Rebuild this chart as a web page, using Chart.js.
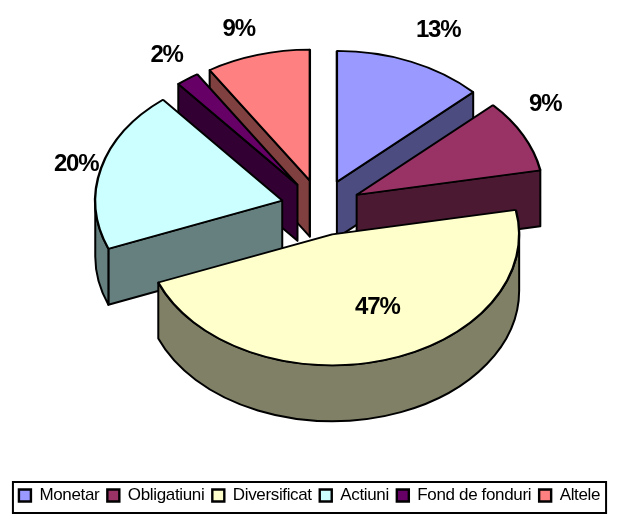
<!DOCTYPE html>
<html>
<head>
<meta charset="utf-8">
<style>
  html, body { margin: 0; padding: 0; background: #fff; }
</style>
<script src="https://cdn.jsdelivr.net/npm/chart.js@4/dist/chart.umd.js"></script>
</head>
<body>
<canvas id="pie" width="619" height="515"></canvas>
<script>
const categories = ["Monetar", "Obligatiuni", "Diversificat", "Actiuni", "Fond de fonduri", "Altele"];
const shares = [13, 9, 47, 20, 2, 9];
const topColors = ["#9999FF", "#993366", "#FFFFCC", "#CCFFFF", "#660066", "#FF8080"];
const sideColors = ["#4C4C80", "#4C1933", "#808066", "#668080", "#330033", "#804040"];
// back to front, the slices overlap each other
const paintOrder = [5, 0, 4, 1, 3, 2];
// nudge from the middle of the rim, per slice
const labelNudge = [[27, -31], [22, -31], [-7, -53], [-25, -4], [-21, -24], [-19, -26]];

const CX = 321;
const CY = 207.5;
const RADIUS = 187;
const TILT = 0.7;
const DEPTH = 56;
const EXPLODE = 40;

function sliceApex(arc) {
  const mid = (arc.startAngle + arc.endAngle) / 2;
  return {
    x: CX + Math.cos(mid) * EXPLODE,
    y: CY + Math.sin(mid) * EXPLODE * TILT
  };
}

function rimPoint(apex, angle) {
  return {
    x: apex.x + Math.cos(angle) * RADIUS,
    y: apex.y + Math.sin(angle) * RADIUS * TILT
  };
}

function drawWall(ctx, apex, angle) {
  const p = rimPoint(apex, angle);
  ctx.beginPath();
  ctx.moveTo(apex.x, apex.y);
  ctx.lineTo(p.x, p.y);
  ctx.lineTo(p.x, p.y + DEPTH);
  ctx.lineTo(apex.x, apex.y + DEPTH);
  ctx.closePath();
  ctx.fill();
  ctx.stroke();
}

function drawSides(ctx, arc, i) {
  const apex = sliceApex(arc);
  ctx.save();
  ctx.fillStyle = sideColors[i];
  ctx.strokeStyle = "#000";
  ctx.lineWidth = 2;
  ctx.lineJoin = "round";
  // cut faces, only those turned towards the viewer
  if (Math.cos(arc.startAngle) < 0) drawWall(ctx, apex, arc.startAngle);
  if (Math.cos(arc.endAngle) > 0) drawWall(ctx, apex, arc.endAngle);
  // outer rim, front half only
  const from = Math.max(arc.startAngle, 0);
  const to = Math.min(arc.endAngle, Math.PI);
  if (to > from) {
    ctx.beginPath();
    ctx.ellipse(apex.x, apex.y, RADIUS, RADIUS * TILT, 0, from, to);
    ctx.ellipse(apex.x, apex.y + DEPTH, RADIUS, RADIUS * TILT, 0, to, from, true);
    ctx.closePath();
    ctx.fill();
    ctx.stroke();
  }
  ctx.restore();
}

const tiltedPie = {
  id: "tiltedPie",
  beforeUpdate(chart) {
    chart.ctx.letterSpacing = "-0.35px";
  },
  beforeDraw(chart) {
    chart.ctx.letterSpacing = "-0.35px";
  },
  beforeDatasetDraw(chart, args) {
    const ctx = chart.ctx;
    const arcs = chart.getDatasetMeta(args.index).data;
    paintOrder.forEach(i => {
      const arc = arcs[i];
      const apex = sliceApex(arc);
      drawSides(ctx, arc, i);
      ctx.save();
      ctx.translate(apex.x, apex.y);
      ctx.scale(1, TILT);
      ctx.translate(-arc.x, -arc.y);
      arc.draw(ctx);
      ctx.restore();
    });
    return false;
  },
  afterDraw(chart) {
    const ctx = chart.ctx;
    const arcs = chart.getDatasetMeta(0).data;
    ctx.save();
    ctx.font = "bold 24px 'Liberation Sans', Arial, sans-serif";
    ctx.letterSpacing = "-1.2px";
    ctx.fillStyle = "#000";
    ctx.textAlign = "center";
    ctx.textBaseline = "middle";
    arcs.forEach((arc, i) => {
      const mid = (arc.startAngle + arc.endAngle) / 2;
      const p = rimPoint(sliceApex(arc), mid);
      ctx.fillText(shares[i] + "%", p.x + labelNudge[i][0], p.y + labelNudge[i][1]);
    });
    ctx.restore();

    // Excel style frame round the legend
    const boxes = chart.legend.legendHitBoxes;
    const left = Math.min(...boxes.map(b => b.left)) - 6;
    const right = Math.max(...boxes.map(b => b.left + b.width)) + 6;
    ctx.save();
    ctx.strokeStyle = "#000";
    ctx.lineWidth = 2;
    ctx.strokeRect(left, 482, right - left, 31);
    ctx.restore();
  }
};

new Chart(document.getElementById("pie"), {
  type: "pie",
  data: {
    labels: categories,
    datasets: [{
      data: shares,
      backgroundColor: topColors,
      borderColor: "#000",
      borderWidth: 2.4,
      radius: RADIUS
    }]
  },
  options: {
    responsive: false,
    animation: false,
    layout: { padding: { bottom: 1 } },
    plugins: {
      tooltip: { enabled: false },
      legend: {
        position: "bottom",
        labels: {
          color: "#000",
          font: { family: "'Liberation Sans', Arial, sans-serif", size: 17 },
          boxWidth: 12,
          boxHeight: 12,
          padding: 8
        }
      }
    }
  },
  plugins: [tiltedPie]
});
</script>
</body>
</html>
